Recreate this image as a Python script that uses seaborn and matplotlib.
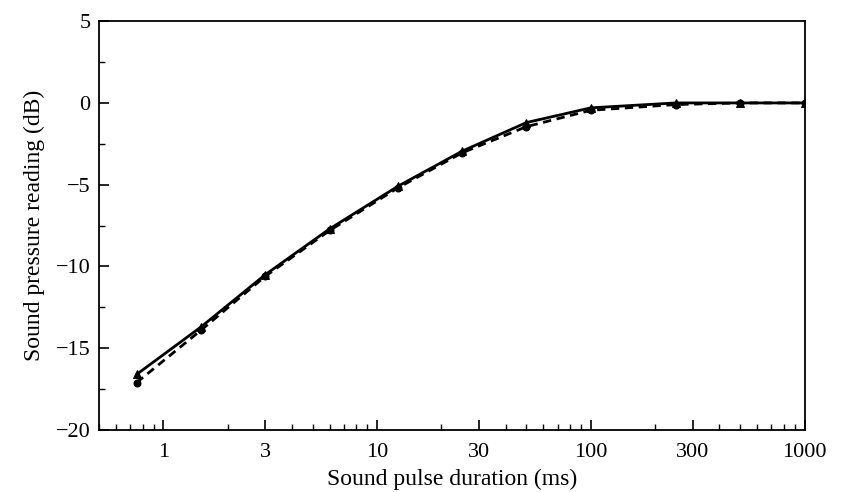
import numpy as np
import pandas as pd
import seaborn as sns
import matplotlib
matplotlib.use("Agg")
import matplotlib.pyplot as plt
import matplotlib.ticker as ticker

# pulse durations (ms) and readings (dB) for the two curves
durations = [0.75, 1.5, 3, 6, 12.5, 25, 50, 100, 250, 500, 1000]
solid_db = [-16.6, -13.7, -10.5, -7.7, -5.1, -2.95, -1.2, -0.3, 0.0, 0.0, 0.0]
dashed_db = [-17.1, -13.9, -10.6, -7.8, -5.2, -3.05, -1.45, -0.45, -0.1, 0.0, 0.0]

x_ticks = [1, 3, 10, 30, 100, 300, 1000]
x_tick_labels = ["1", "3", "10", "30", "100", "300", "1000"]
y_ticks = [-20, -15, -10, -5, 0, 5]

sns.set_theme(style="ticks")
plt.rcParams.update(
    {
        "font.family": ["Liberation Serif", "DejaVu Serif"],
        "axes.edgecolor": "black",
        "axes.linewidth": 1.3,
        "xtick.direction": "in",
        "ytick.direction": "in",
        "xtick.color": "black",
        "ytick.color": "black",
        "text.color": "black",
        "axes.labelcolor": "black",
    }
)

df_solid = pd.DataFrame({"dur": durations, "db": solid_db})
df_dashed = pd.DataFrame({"dur": durations, "db": dashed_db})

fig = plt.figure(figsize=(8.46, 4.92), dpi=100)
ax = fig.add_axes([0.117, 0.126, 0.834, 0.831])

sns.lineplot(
    data=df_solid, x="dur", y="db", ax=ax, color="black", linewidth=2.0,
    marker="^", markersize=6, markeredgecolor="black",
)
sns.lineplot(
    data=df_dashed, x="dur", y="db", ax=ax, color="black", linewidth=2.0,
    linestyle=(0, (3, 2)), marker="o", markersize=5, markeredgecolor="black",
)

ax.set_xscale("log")
ax.set_xlim(0.5, 1000)
ax.set_ylim(-20, 5)
ax.set_xticks(x_ticks)
ax.set_xticklabels(x_tick_labels)
ax.xaxis.set_minor_locator(ticker.LogLocator(base=10, subs=np.arange(2, 10)))
ax.xaxis.set_minor_formatter(ticker.NullFormatter())
ax.set_yticks(y_ticks)
ax.set_yticklabels(["\u221220", "\u221215", "\u221210", "\u22125", "0", "5"])
ax.yaxis.set_minor_locator(ticker.MultipleLocator(2.5))
ax.tick_params(which="major", length=7, width=1.2, labelsize=16)
ax.tick_params(axis="x", which="major", pad=9)
ax.tick_params(axis="y", which="major", pad=6)
ax.tick_params(which="minor", length=4, width=1.0)

ax.set_xlabel("Sound pulse duration (ms)", fontsize=17, labelpad=5)
ax.set_ylabel("Sound pressure reading (dB)", fontsize=17, labelpad=8)

for s in ax.spines.values():
    s.set_visible(True)
    s.set_linewidth(1.3)

fig.savefig("out.png", dpi=100)
